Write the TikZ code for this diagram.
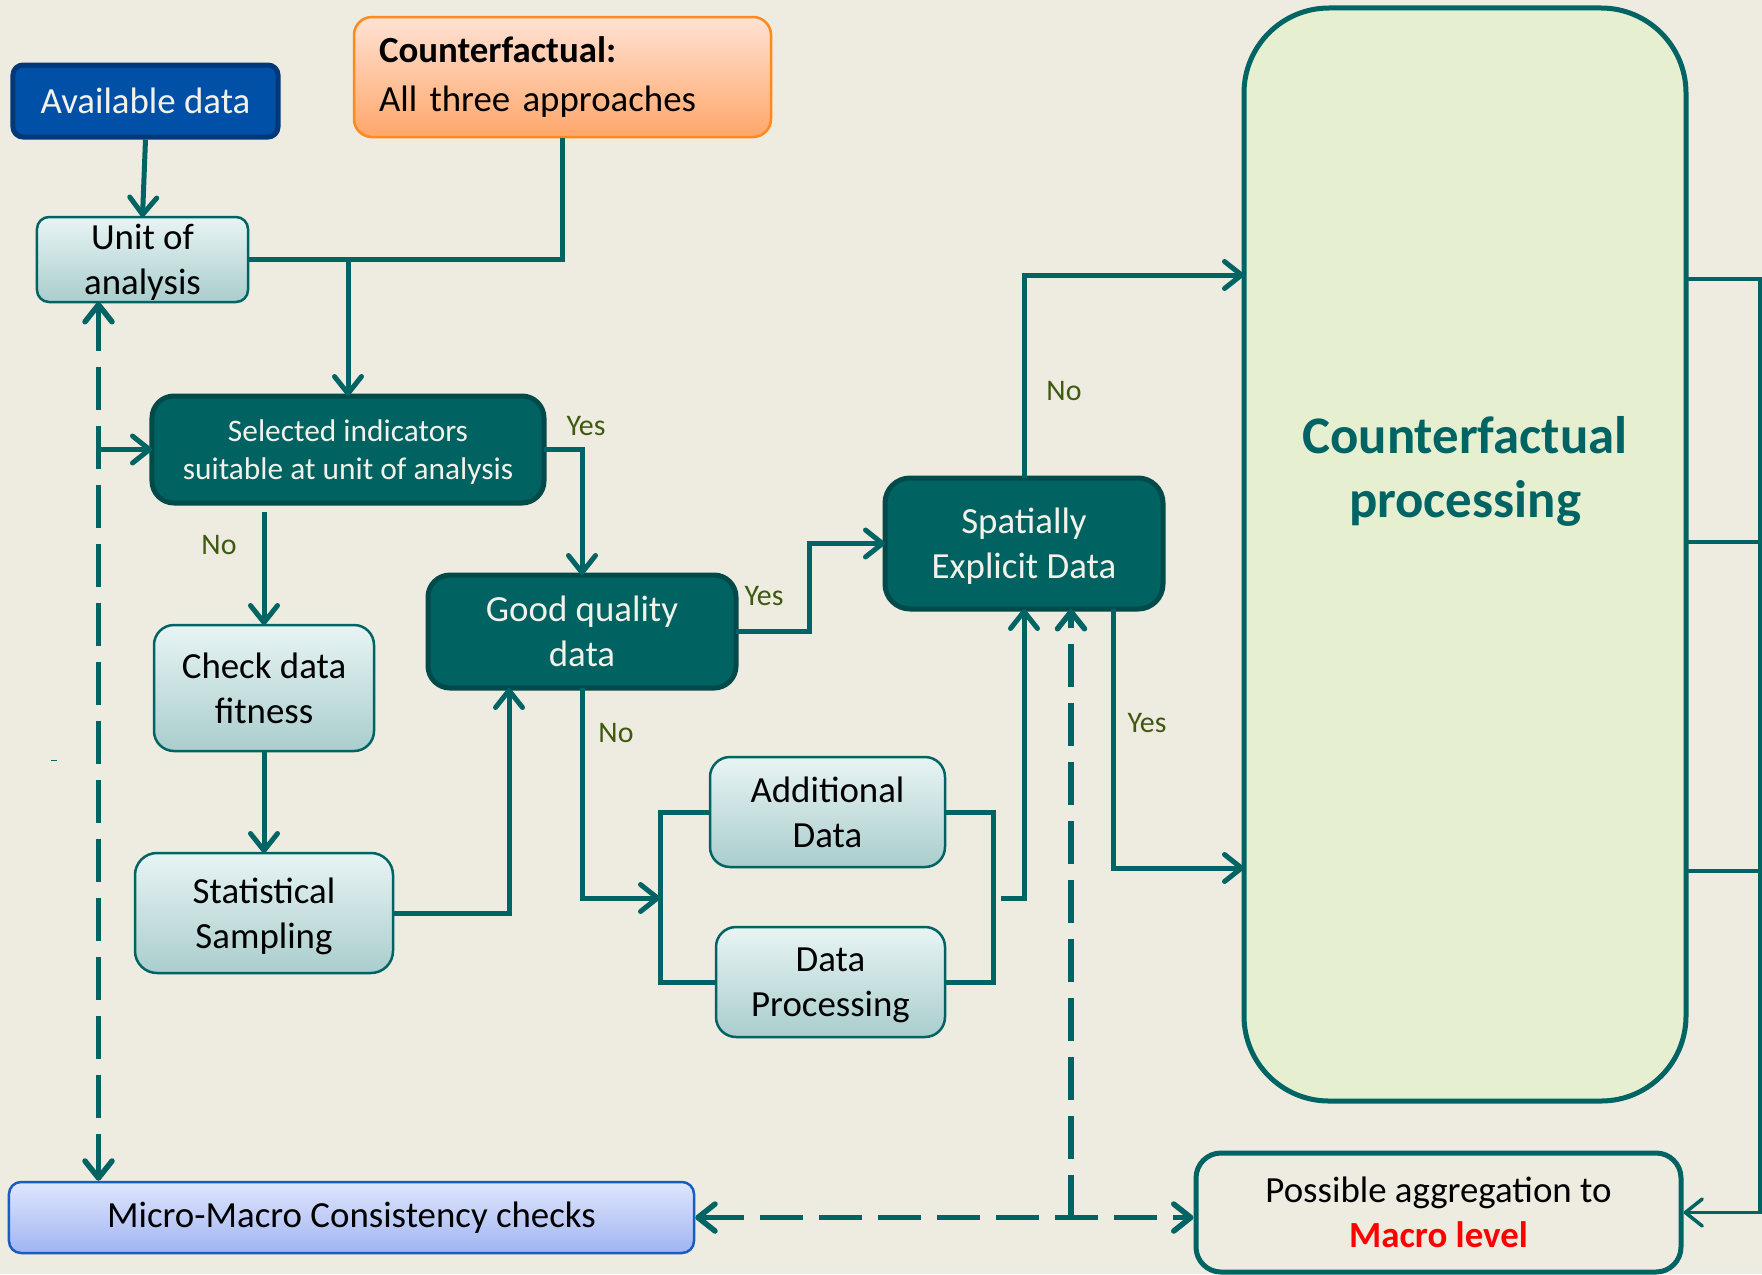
\documentclass[tikz,border=0pt]{standalone}
\usepackage{fontspec}
\setmainfont{Carlito}
\usetikzlibrary{arrows.meta,calc}

\definecolor{bg}{RGB}{238,235,224}
\definecolor{flowteal}{RGB}{0,100,100}
\definecolor{darkfill}{RGB}{0,98,97}
\definecolor{darkedge}{RGB}{0,74,73}
\definecolor{lighttop}{RGB}{232,244,244}
\definecolor{lightbot}{RGB}{170,205,205}
\definecolor{bluefill}{RGB}{0,80,168}
\definecolor{blueedge}{RGB}{0,56,120}
\definecolor{orangetop}{RGB}{255,226,212}
\definecolor{orangebot}{RGB}{255,166,106}
\definecolor{orangeedge}{RGB}{255,138,28}
\definecolor{microtop}{RGB}{223,230,252}
\definecolor{microbot}{RGB}{160,180,242}
\definecolor{microedge}{RGB}{26,92,192}
\definecolor{cpfill}{RGB}{230,239,208}
\definecolor{labelgreen}{RGB}{63,90,15}
\definecolor{whitetext}{RGB}{242,242,234}

\newcommand{\fsmain}{\fontsize{37}{45}\selectfont}
\newcommand{\fssel}{\fontsize{31.5}{38}\selectfont}
\newcommand{\fslbl}{\fontsize{30}{36}\selectfont}
\newcommand{\fscp}{\fontsize{53}{64}\selectfont}

\tikzset{
  >={Straight Barb[length=17bp,width=27bp,round]},
  lightbox/.style={rectangle, rounded corners=18bp, draw=flowteal, line width=2.5bp,
    top color=lighttop, bottom color=lightbot, align=center, inner sep=0pt,
    outer sep=0pt, text=black, font=\fsmain, text depth=0pt},
  darkbox/.style={rectangle, rounded corners=22bp, draw=darkedge, line width=5bp,
    fill=darkfill, text=whitetext, align=center, inner sep=0pt, outer sep=0pt,
    font=\fsmain, text depth=0pt},
  link/.style={draw=flowteal, line width=5bp},
  thinlink/.style={draw=flowteal, line width=3.5bp},
  dashlink/.style={draw=flowteal, line width=5.5bp, dash pattern=on 43bp off 16bp},
  lbl/.style={text=labelgreen, font=\fslbl, inner sep=0pt}
}

\begin{document}
\begin{tikzpicture}[x=1bp,y=-1bp]
  % canvas
  \useasboundingbox (0,0) rectangle (1762,1274);
  \fill[bg] (0,0) rectangle (1762,1274);

  % ---- boxes ----
  \node[rectangle, rounded corners=10bp, draw=blueedge, line width=5bp, fill=bluefill,
        text=whitetext, font=\fsmain, minimum width=265bp, minimum height=72bp,
        inner sep=0pt] (avail) at (145.5,101) {Available data};

  \node[rectangle, rounded corners=18bp, draw=orangeedge, line width=2.5bp,
        top color=orangetop, bottom color=orangebot, font=\fsmain, align=left,
        text width=367bp, inner xsep=25bp, inner ysep=0pt, minimum height=120bp]
        (cf) at (562.5,77) {\vspace*{5bp}\textbf{Counterfactual:}\\All three approaches};

  \node[lightbox, rounded corners=12bp, minimum width=211bp, minimum height=85bp]
        (unit) at (142.5,259.5) {Unit of\\analysis};

  \node[darkbox, font=\fssel, minimum width=392bp, minimum height=107bp]
        (sel) at (348,449.5) {Selected indicators\\suitable at unit of analysis};

  \node[lightbox, rounded corners=20bp, minimum width=220bp, minimum height=126bp]
        (check) at (264,688) {Check data\\fitness};

  \node[lightbox, rounded corners=22bp, minimum width=258bp, minimum height=120bp]
        (stat) at (264,913) {Statistical\\Sampling};

  \node[darkbox, minimum width=308bp, minimum height=113bp]
        (good) at (582,631.5) {Good quality\\data};

  \node[lightbox, rounded corners=20bp, minimum width=235bp, minimum height=110bp]
        (addl) at (827.5,812) {Additional\\Data};

  \node[lightbox, rounded corners=20bp, minimum width=229bp, minimum height=110bp]
        (proc) at (830.5,982) {Data\\Processing};

  \node[darkbox, rounded corners=25bp, minimum width=278bp, minimum height=131bp]
        (spat) at (1024,543.5) {Spatially\\Explicit Data};

  \node[rectangle, rounded corners=85bp, draw=flowteal, line width=5bp, fill=cpfill,
        minimum width=442bp, minimum height=1093bp, inner sep=0pt]
        (cp) at (1465,554.5) {};
  \node[text=flowteal, font=\fscp\bfseries, align=center, inner sep=0pt,
        text depth=0pt]
        (cptext) at (1465,467) {Counterfactual\\processing};

  \node[rectangle, rounded corners=12bp, draw=microedge, line width=2.5bp,
        top color=microtop, bottom color=microbot, font=\fsmain,
        minimum width=685bp, minimum height=71bp, inner sep=0pt]
        (micro) at (351.5,1217.5) {Micro-Macro Consistency checks};

  \node[rectangle, rounded corners=25bp, draw=flowteal, line width=5bp,
        font=\fsmain, align=center, minimum width=485bp, minimum height=119bp,
        inner sep=0pt, text depth=0pt]
        (agg) at (1438.5,1212.5)
        {Possible aggregation to\\\textcolor{red}{\textbf{Macro level}}};

  % ---- helper points ----
  \coordinate (dleft) at ($(unit.south)+(-44,0)$);
  \coordinate (nostart) at ($(check.north |- sel.south)+(0,9)$);
  \coordinate (samp) at ($(good.south)+(-73,0)$);
  \coordinate (bl) at (660,898);
  \coordinate (br) at (993,898);
  \coordinate (bs) at (1001,898);
  \coordinate (sdash) at ($(spat.south)+(47,0)$);
  \coordinate (syes) at ($(spat.south)+(89,0)$);
  \coordinate (cpinA) at (1244,275);
  \coordinate (cpinB) at (1244,868);
  \coordinate (cpoA) at (1686,279);
  \coordinate (cpoB) at (1686,542);
  \coordinate (cpoC) at (1686,871);
  \coordinate (rail) at (1760,279);

  % ---- connectors ----
  \draw[link,->] (avail.south) -- (unit.north);
  \draw[link] (cf.south) |- (unit.east);
  \draw[link,->] (sel.north |- unit.east) -- (sel.north);

  \draw[link,->] (sel.east) -| (good.north);
  \draw[link,->] (nostart) -- (check.north);
  \draw[link,->] (check.south) -- (stat.north);
  \draw[link,->] (stat.east) -| (samp);

  \draw[link,->] (good.east) -- ++(73,0) |- (spat.west);
  \draw[link,->] (good.south) |- (bl);
  \draw[link] (addl.west) -| (bl) |- (proc.west);
  \draw[link] (addl.east) -| (br) |- (proc.east);
  \draw[link,->] (bs) -| (spat.south);

  \draw[link,->] (spat.north) |- (cpinA);
  \draw[link,->] (syes) |- (cpinB);

  \draw[thinlink,->] (cpoA) -- (rail) |- (agg.east);
  \draw[thinlink] (cpoB) -- (cpoB -| rail);
  \draw[thinlink] (cpoC) -- (cpoC -| rail);

  \draw[dashlink,<->] (dleft) -- (dleft |- micro.north);
  \draw[link,->] (dleft |- sel.west) -- (sel.west);
  \draw[dashlink,<->] (micro.east) -- (micro.east -| agg.west);
  \draw[dashlink,->] (sdash |- micro.east) -- (sdash);

  \draw[flowteal, line width=1bp] (51,760) -- (57,760);

  % ---- branch labels ----
  \node[lbl] (yes1) at (586,426) {Yes};
  \node[lbl] (no1) at (219,545) {No};
  \node[lbl] (yes2) at (764,596) {Yes};
  \node[lbl] (no2) at (616,733) {No};
  \node[lbl] (no3) at (1064,391) {No};
  \node[lbl] (yes3) at (1147,723) {Yes};
\end{tikzpicture}
\end{document}
